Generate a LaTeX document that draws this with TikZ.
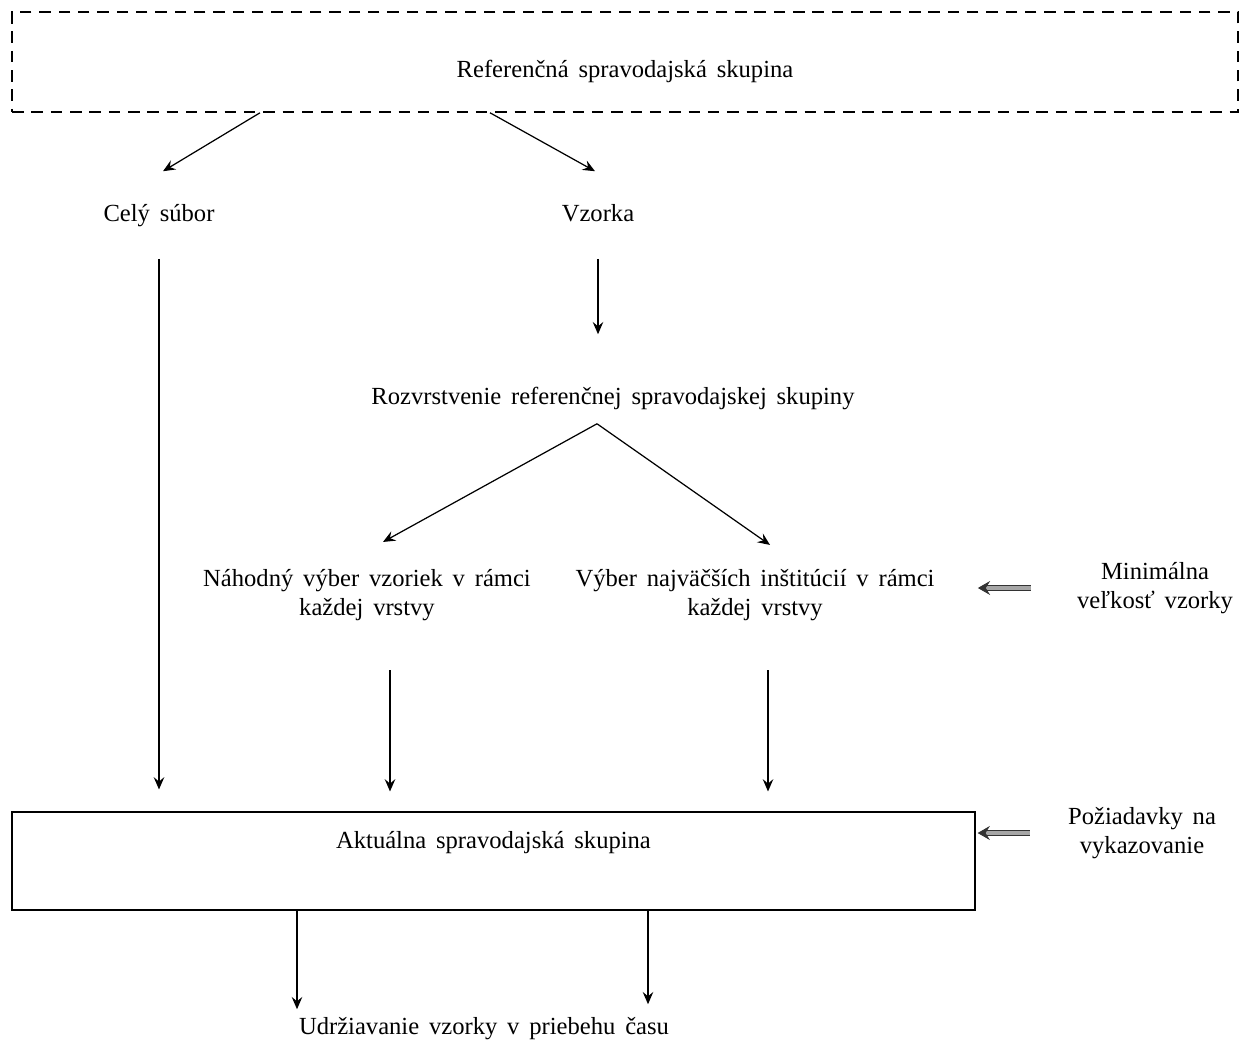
\documentclass[tikz,border=0pt]{standalone}
\usepackage{fontspec}
\setmainfont[WordSpace = 1.6]{Liberation Serif}
\usetikzlibrary{arrows.meta}

\begin{document}
\begin{tikzpicture}[x = 0.02cm, y = -0.02cm,
    every node/.style = {font = \fontsize{14}{16.5}\selectfont, align = center, inner sep = 0pt},
    lbl/.style = {text height = 10pt, text depth = 3pt},
    arr/.style = {-{Stealth[length = 7pt, width = 6pt, inset = 2.5pt]}, line width = 0.7pt},
    dbl/.style = {-{Stealth[length = 7pt, width = 8pt, inset = 2.5pt]}, draw = black!80,
        double = black!35, double distance = 2pt, line width = 0.55pt}]
    \useasboundingbox (0,0) rectangle (1240,1041);
    % boxes
    \node[draw, dash pattern = on 6.5pt off 4.5pt, line width = 1.1pt, minimum width = 24.52cm,
        text height = 37.4pt, text depth = 19.3pt] (ref) at (625,62) {Referenčná spravodajská skupina};
    \node[draw, line width = 0.8pt, minimum width = 19.26cm,
        text height = 20.4pt, text depth = 35.2pt] (akt) at (493.5,861) {Aktuálna spravodajská skupina};
    % texts
    \node[lbl] (cel) at (159,215) {Celý súbor};
    \node[lbl] (vzo) at (598,215) {Vzorka};
    \node[lbl] (roz) at (613,398) {Rozvrstvenie referenčnej spravodajskej skupiny};
    \node (nah) at (367,595) {Náhodný výber vzoriek v rámci\\každej vrstvy};
    \node (vyb) at (755,595) {Výber najväčších inštitúcií v rámci\\každej vrstvy};
    \node (min) at (1155,588) {Minimálna\\veľkosť vzorky};
    \node (poz) at (1142,833) {Požiadavky na\\vykazovanie};
    \node[lbl] (udr) at (484,1028) {Udržiavanie vzorky v priebehu času};
    % arrows
    \draw[arr] ([shift = {(-365,0)}]ref.south) -- ([shift = {(4,-32)}]cel.north);
    \draw[arr] ([shift = {(-135,0)}]ref.south) -- ([shift = {(-3,-32)}]vzo.north);
    \draw[arr, shorten < = 0.64cm, shorten > = 0.44cm] (cel.south) -- (cel.south |- akt.north);
    \draw[arr, shorten < = 0.64cm, shorten > = 1.04cm] (vzo.south) -- (vzo.south |- roz.north);
    \draw[arr] ([shift = {(-16,14)}]roz.south) -- ([shift = {(16,-27)}]nah.north);
    \draw[arr] ([shift = {(-16,14)}]roz.south) -- ([shift = {(15,-24)}]vyb.north);
    \draw[arr, shorten > = 0.4cm] ([shift = {(23,49)}]nah.south) coordinate (n1) -- (n1 |- akt.north);
    \draw[arr, shorten > = 0.4cm] ([shift = {(13,49)}]vyb.south) coordinate (v1) -- (v1 |- akt.north);
    \draw[arr, shorten > = 0.14cm] ([shift = {(-196.5,0)}]akt.south) coordinate (a1) -- (a1 |- udr.north);
    \draw[arr, shorten > = 0.24cm] ([shift = {(154.5,0)}]akt.south) coordinate (a2) -- (a2 |- udr.north);
    \draw[dbl, shorten > = 0.86cm] ([shift = {(-46,0)}]min.west) coordinate (m1) -- (m1 -| vyb.east);
    \draw[dbl, shorten > = 0.04cm] ([shift = {(-38,0)}]poz.west) coordinate (p1) -- (p1 -| akt.east);
\end{tikzpicture}
\end{document}
